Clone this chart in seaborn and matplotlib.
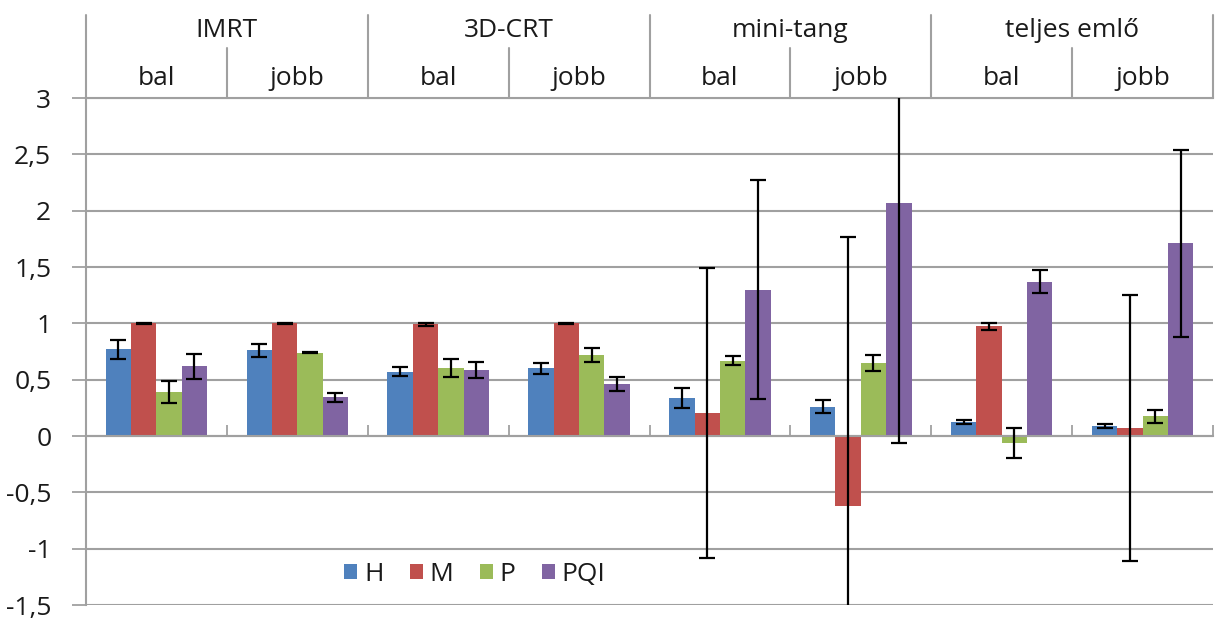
import numpy as np
import pandas as pd
import matplotlib
matplotlib.use("Agg")
import matplotlib.pyplot as plt
import seaborn as sns
from matplotlib.ticker import FixedLocator, FuncFormatter

# ---------------- data ----------------
techniques = ["IMRT", "3D-CRT", "mini-tang", "teljes emlő"]
sides = ["bal", "jobb"]
series = ["H", "M", "P", "PQI"]

H = [0.77, 0.76, 0.57, 0.60, 0.34, 0.26, 0.125, 0.087]
H_err = [0.085, 0.06, 0.04, 0.05, 0.09, 0.06, 0.02, 0.018]
M = [1.00, 1.00, 0.99, 1.00, 0.205, -0.62, 0.975, 0.073]
M_err = [0.005, 0.005, 0.01, 0.005, 1.29, 2.39, 0.03, 1.18]
P = [0.39, 0.74, 0.60, 0.72, 0.67, 0.65, -0.06, 0.175]
P_err = [0.10, 0.005, 0.08, 0.06, 0.04, 0.07, 0.135, 0.06]
PQI = [0.62, 0.345, 0.585, 0.46, 1.30, 2.07, 1.37, 1.71]
PQI_err = [0.11, 0.04, 0.07, 0.06, 0.97, 2.13, 0.105, 0.83]

y_ticks = [-1.5, -1.0, -0.5, 0.0, 0.5, 1.0, 1.5, 2.0, 2.5, 3.0]

colors = {"H": "#4F81BD", "M": "#C0504D", "P": "#9BBB59", "PQI": "#8064A2"}

values = {"H": H, "M": M, "P": P, "PQI": PQI}
errors = {"H": H_err, "M": M_err, "P": P_err, "PQI": PQI_err}

categories = [f"{t} {s}" for t in techniques for s in sides]
rows = []
for s in series:
    for c, v, e in zip(categories, values[s], errors[s]):
        rows.append({"cat": c, "series": s, "value": v, "err": e})
df = pd.DataFrame(rows)

# ---------------- style ----------------
sns.set_theme(style="white")
plt.rcParams["font.family"] = ["Open Sans", "DejaVu Sans"]
GRID = "#a0a0a0"
TXT = "#1a1a1a"
FS = 19

fig = plt.figure(figsize=(12.15, 6.19), dpi=100)
AX_TOP, AX_BOT = 98, 605
AX_H = AX_BOT - AX_TOP
ax = fig.add_axes([86 / 1215, 1 - AX_BOT / 619, (1213 - 86) / 1215, AX_H / 619])

sns.barplot(data=df, x="cat", y="value", hue="series", order=categories,
            hue_order=series, palette=colors, errorbar=None, width=0.72,
            saturation=1, linewidth=0, ax=ax)

# error bars at the bar centres produced by seaborn
for s, cont in zip(series, ax.containers):
    xs = [p.get_x() + p.get_width() / 2 for p in cont.patches]
    ax.errorbar(xs, values[s], yerr=errors[s], fmt="none", ecolor="black",
                elinewidth=1.6, capsize=6, capthick=1.6, zorder=5)

ax.set_ylim(-1.5, 3.0)
ax.set_xlim(-0.5, len(categories) - 0.5)
ax.set_xlabel("")
ax.set_ylabel("")

# y axis
ax.yaxis.set_major_locator(FixedLocator(y_ticks))
ax.yaxis.set_major_formatter(FuncFormatter(
    lambda v, p: (f"{v:g}").replace(".", ",")))
ax.tick_params(axis="y", which="major", direction="out", length=10, width=1.3,
               color=GRID, labelsize=FS, labelcolor=TXT, pad=15, left=True)
ax.grid(axis="y", color=GRID, linewidth=1.5)
ax.set_axisbelow(True)

# category axis on the zero line with inward ticks at boundaries
ax.spines["bottom"].set_position(("data", 0))
ax.spines["bottom"].set_color(GRID)
ax.spines["bottom"].set_linewidth(1.5)
ax.set_xticks([i + 0.5 for i in range(len(categories))])
ax.set_xticklabels([])
ax.tick_params(axis="x", direction="in", length=8, width=1.3, color=GRID,
               bottom=True)
for sp in ["left", "top"]:
    ax.spines[sp].set_color(GRID)
    ax.spines[sp].set_linewidth(1.5)
ax.spines["right"].set_visible(False)

# header (two-level category labels above the plot)
trans = ax.get_xaxis_transform()
y_top = 1 + 83 / AX_H
y_mid = 1 + 50 / AX_H
for g in range(len(techniques) + 1):
    xb = -0.5 + 2 * g
    ax.plot([xb, xb], [1.0, y_top], transform=trans, color=GRID, lw=1.5,
            clip_on=False)
for g, t in enumerate(techniques):
    ax.plot([2 * g + 0.5, 2 * g + 0.5], [1.0, y_mid], transform=trans,
            color=GRID, lw=1.5, clip_on=False)
    ax.text(2 * g + 0.5, 1 + 61 / AX_H, t, transform=trans, ha="center",
            va="baseline", fontsize=FS, color=TXT)
for i, c in enumerate(categories):
    ax.text(i, 1 + 13 / AX_H, c.split(" ")[-1], transform=trans, ha="center",
            va="baseline", fontsize=FS, color=TXT)

# legend
sns.move_legend(ax, loc="center", bbox_to_anchor=(0.345, 0.06), ncol=4,
                frameon=False, title=None, fontsize=FS, handlelength=0.5,
                handleheight=0.5, handletextpad=0.25, columnspacing=1.0,
                borderaxespad=0)
for t in ax.get_legend().get_texts():
    t.set_color(TXT)

fig.savefig("out.png", dpi=100)
